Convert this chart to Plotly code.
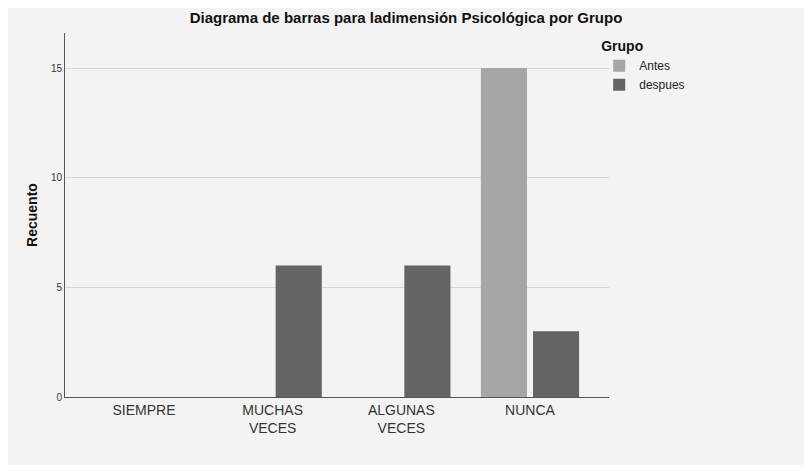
import plotly.graph_objects as go

categorias = ["SIEMPRE", "MUCHAS<br>VECES", "ALGUNAS<br>VECES", "NUNCA"]
antes = [0, 0, 0, 15]
despues = [0, 6, 6, 3]
y_ticks = [0, 5, 10, 15]

FONT = "Liberation Sans, Arial, sans-serif"
BG = "#f3f3f3"

fig = go.Figure()
fig.add_trace(go.Bar(x=categorias, y=antes, name="Antes",
                     marker=dict(color="#a6a6a6", line=dict(width=0))))
fig.add_trace(go.Bar(x=categorias, y=despues, name="despues",
                     marker=dict(color="#646464", line=dict(width=0))))

# the page adds an 8px body margin, so the figure is a bit smaller
fig.update_layout(
    width=796, height=457,
    paper_bgcolor=BG, plot_bgcolor=BG,
    font=dict(family=FONT, color="#222222", size=12),
    margin=dict(l=57, r=195, t=25, b=68),
    barmode="group", bargap=0.19, bargroupgap=0.115,
    title=dict(text="<b>Diagrama de barras para ladimensión Psicológica por Grupo</b>",
               x=0.5, xanchor="center", y=0.978, yanchor="middle",
               font=dict(size=15, color="#111111")),
    legend=dict(title=dict(text="<b>Grupo</b>", font=dict(size=14, color="#111111")),
                x=0.982, xanchor="left", y=1.0, yanchor="top",
                bgcolor="rgba(0,0,0,0)", font=dict(size=12),
                tracegroupgap=0, itemwidth=30),
    xaxis=dict(range=[-0.614, 3.614], showline=True, linecolor="#555555",
               linewidth=1, ticks="", showgrid=False,
               tickfont=dict(size=14, color="#333333")),
    yaxis=dict(range=[0, 16.6], tickvals=y_ticks, showline=True,
               linecolor="#555555", linewidth=1, gridcolor="#d6d6d6",
               zeroline=False, ticks="", tickfont=dict(size=10, color="#333333"),
               title=dict(text="<b>Recuento</b>", font=dict(size=14, color="#111111"),
                          standoff=9)),
)

fig.write_html("out.html")
